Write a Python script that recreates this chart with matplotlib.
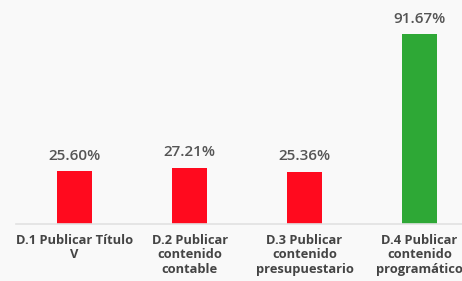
import matplotlib.pyplot as plt

# Datos del gráfico
categorias = ["D.1 Publicar Título\nV",
              "D.2 Publicar\ncontenido\ncontable",
              "D.3 Publicar\ncontenido\npresupuestario",
              "D.4 Publicar\ncontenido\nprogramático"]
valores = [25.60, 27.21, 25.36, 91.67]
colores = ["#ff0a1e", "#ff0a1e", "#ff0a1e", "#2ea836"]

plt.rcParams['font.family'] = ['Open Sans', 'DejaVu Sans']

fig = plt.figure(figsize=(4.62, 2.81), dpi=100, facecolor="#f9f9f9")
ax = fig.add_axes([16/462, 57/281, 446/462, 207/281])
ax.set_facecolor("#f9f9f9")

x = range(len(valores))
ax.bar(x, valores, width=0.3, color=colores, zorder=2)

# Etiquetas de valor
for xi, v in zip(x, valores):
    ax.text(xi, v + 4, f"{v:.2f}%", ha="center", va="bottom",
            fontsize=11, fontweight="semibold", color="#555555")

ax.set_xlim(-0.51, 3.37)
ax.set_ylim(0, 100)
ax.set_yticks([])
ax.set_xticks(list(x))
ax.set_xticklabels(categorias, fontsize=9.3, fontweight="bold", color="#444444",
                   linespacing=1.16)
ax.tick_params(axis="x", length=0, pad=7)

for s in ["top", "right", "left"]:
    ax.spines[s].set_visible(False)
ax.spines["bottom"].set_color("#e2e2e2")
ax.spines["bottom"].set_linewidth(1.2)

plt.savefig("out.png", dpi=100, facecolor=fig.get_facecolor())
